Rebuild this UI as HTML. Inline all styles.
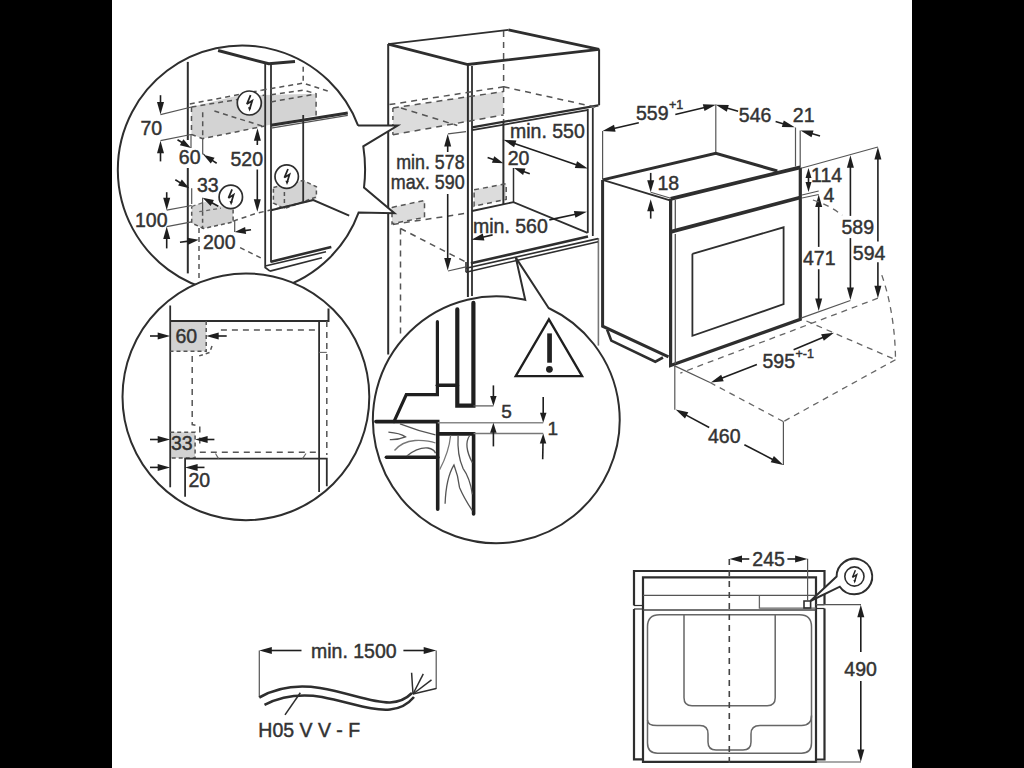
<!DOCTYPE html>
<html><head><meta charset="utf-8">
<style>
html,body{margin:0;padding:0;background:#000;}
body{width:1024px;height:768px;overflow:hidden;position:relative;}
#pg{position:absolute;left:112px;top:0;width:800px;height:768px;background:#fff;}
svg{position:absolute;left:0;top:0;}
text{font-family:"Liberation Sans",sans-serif;stroke:#333;stroke-width:0.45px;}
</style></head><body>
<div id="pg"></div>
<svg width="1024" height="768" viewBox="0 0 1024 768">
<path d="M634.0,605.5 L634.0,571.0 L824.5,571.0 L824.5,604.7" fill="none" stroke="#2e2e2e" stroke-width="2.20" />
<path d="M634.0,609.0 L634.0,759.3 L643.0,759.3" fill="none" stroke="#2e2e2e" stroke-width="2.20" />
<path d="M824.5,608.5 L824.5,759.5 L816.0,759.5" fill="none" stroke="#2e2e2e" stroke-width="2.20" />
<path d="M634.0,605.5 L643.0,605.5" fill="none" stroke="#2e2e2e" stroke-width="1.20" />
<path d="M634.0,609.0 L643.0,609.0" fill="none" stroke="#2e2e2e" stroke-width="1.20" />
<path d="M816.0,604.7 L824.5,604.7" fill="none" stroke="#2e2e2e" stroke-width="1.20" />
<path d="M816.0,608.5 L824.5,608.5" fill="none" stroke="#2e2e2e" stroke-width="1.20" />
<path d="M643,761.9 V577.3 H816 V761.9 Z" fill="none" stroke="#2e2e2e" stroke-width="2.20" />
<path d="M643.0,595.3 L816.0,595.3" fill="none" stroke="#555" stroke-width="1.30" />
<path d="M643.0,610.0 L816.0,610.0" fill="none" stroke="#444" stroke-width="1.50" />
<path d="M759.4,595.3 L759.4,608.2 L816.0,608.2" fill="none" stroke="#666" stroke-width="1.30" />
<path d="M804,601 h6.6 v7 h-6.6 Z" fill="none" stroke="#2e2e2e" stroke-width="1.60" />
<path d="M659.5,614.7 H799.5 Q811.5,614.7 811.5,626.7 V715.6 Q811.5,725.6 801.5,725.6 H760 Q751,725.6 751,734 V742 Q751,750 743,750 H716 Q708,750 708,742 V734 Q708,725.6 700,725.6 H657 Q647.5,725.6 647.5,720 V626.7 Q647.5,614.7 659.5,614.7 Z" fill="none" stroke="#666" stroke-width="1.50" />
<path d="M647.5,720 V743 Q647.5,753.2 657.5,753.2 H801.5 Q811.5,753.2 811.5,743 V715.6" fill="none" stroke="#666" stroke-width="1.50" />
<path d="M684,614.7 V697.7 Q684,705.7 692,705.7 H767.2 Q775.2,705.7 775.2,697.7 V614.7" fill="none" stroke="#666" stroke-width="1.50" />
<path d="M729.3,559.0 L729.3,768.0" fill="none" stroke="#444" stroke-width="1.60" stroke-dasharray="6,5" />
<path d="M807.6,558.8 L807.6,601.0" fill="none" stroke="#555" stroke-width="1.20" />
<path d="M816.0,604.7 L861.0,604.7" fill="none" stroke="#555" stroke-width="1.20" />
<path d="M816.0,762.0 L861.0,762.0" fill="none" stroke="#555" stroke-width="1.20" />
<path d="M860.8,681.0 L860.8,750.5" stroke="#1e1e1e" stroke-width="1.60" fill="none"/>
<path d="M860.8,762.0 L857.3,749.5 L864.3,749.5 Z" fill="#1e1e1e"/>
<path d="M860.8,652.0 L860.8,616.2" stroke="#1e1e1e" stroke-width="1.60" fill="none"/>
<path d="M860.8,604.7 L864.3,617.2 L857.3,617.2 Z" fill="#1e1e1e"/>
<path d="M749.3,559.0 L741.0,559.0" stroke="#1e1e1e" stroke-width="1.60" fill="none"/>
<path d="M729.5,559.0 L742.0,555.5 L742.0,562.5 Z" fill="#1e1e1e"/>
<path d="M787.4,559.0 L796.1,559.0" stroke="#1e1e1e" stroke-width="1.60" fill="none"/>
<path d="M807.6,559.0 L795.1,562.5 L795.1,555.5 Z" fill="#1e1e1e"/>
<path d="M810.4,601 L836.6,576.5 A17.8,17.8 0 1 1 839.8,586.7 Z" fill="#fff" stroke="#2e2e2e" stroke-width="2.00" />
<circle cx="854.4" cy="576.5" r="9.6" fill="#fff" stroke="#2e2e2e" stroke-width="1.60"/>
<path d="M855.4,570.3 L852.5,577.3 L856.7,574.7 L854.7,581.3" fill="none" stroke="#222" stroke-width="1.44" stroke-linejoin="miter" stroke-miterlimit="3"/>
<path d="M854.6,583.4 L853.4,579.9 L855.9,580.2 Z" fill="#222"/>
<text x="860.6" y="676.2" font-size="19.5" text-anchor="middle" fill="#333" >490</text>
<text x="768.6" y="565.8" font-size="19.5" text-anchor="middle" fill="#333" >245</text>
<path d="M598.4,238.0 L598.4,345.6" fill="none" stroke="#777" stroke-width="1.60" />
<path d="M602.6,131.0 L602.6,179.0" fill="none" stroke="#555" stroke-width="1.20" />
<path d="M715.8,104.6 L715.8,153.3" fill="none" stroke="#555" stroke-width="1.20" />
<path d="M795.5,127.5 L795.5,166.5" fill="none" stroke="#555" stroke-width="1.20" />
<path d="M800.2,130.4 L800.2,167.0" fill="none" stroke="#555" stroke-width="1.20" />
<path d="M638.8,122.8 L613.8,128.5" stroke="#1e1e1e" stroke-width="1.60" fill="none"/>
<path d="M602.6,131.0 L614.0,124.8 L615.6,131.7 Z" fill="#1e1e1e"/>
<path d="M675.3,114.5 L704.6,107.5" stroke="#1e1e1e" stroke-width="1.60" fill="none"/>
<path d="M715.8,104.8 L704.5,111.1 L702.8,104.3 Z" fill="#1e1e1e"/>
<text x="636.0" y="119.8" font-size="19.5" text-anchor="start" fill="#333" >559</text>
<text x="669.0" y="109.3" font-size="12.5" text-anchor="start" fill="#333" >+1</text>
<path d="M738.1,111.3 L726.8,108.0" stroke="#1e1e1e" stroke-width="1.60" fill="none"/>
<path d="M715.8,104.8 L728.8,104.9 L726.8,111.7 Z" fill="#1e1e1e"/>
<path d="M775.6,121.6 L783.8,124.0" stroke="#1e1e1e" stroke-width="1.60" fill="none"/>
<path d="M794.8,127.3 L781.8,127.1 L783.8,120.4 Z" fill="#1e1e1e"/>
<text x="738.8" y="122.2" font-size="19.5" text-anchor="start" fill="#333" >546</text>
<text x="792.8" y="122.4" font-size="19.5" text-anchor="start" fill="#333" >21</text>
<path d="M820.0,136.0 L811.6,133.6" stroke="#1e1e1e" stroke-width="1.60" fill="none"/>
<path d="M800.5,130.4 L813.5,130.5 L811.5,137.2 Z" fill="#1e1e1e"/>
<path d="M602.6,179.9 L715.8,153.3 L777.3,171.0" fill="none" stroke="#2e2e2e" stroke-width="3.00" />
<path d="M602.6,179.9 L602.6,326.2 L668.5,356.8" fill="none" stroke="#2e2e2e" stroke-width="3.00" />
<path d="M602.6,179.9 L670.0,200.4" fill="none" stroke="#2e2e2e" stroke-width="1.80" />
<path d="M650.7,192.2 L670.0,198.0" fill="none" stroke="#555" stroke-width="1.20" />
<path d="M607.1,329.6 L611.3,340.6 L655.3,361.7 L663.0,357.5" fill="none" stroke="#2e2e2e" stroke-width="2.60" />
<path d="M670.6,198.9 L800.3,167.3" fill="none" stroke="#2e2e2e" stroke-width="3.80" />
<path d="M670.6,198.7 L670.6,365.6 L800.3,319.3 L800.3,167.5" fill="none" stroke="#2e2e2e" stroke-width="3.20" />
<path d="M675.3,200.0 L675.3,231.0" fill="none" stroke="#555" stroke-width="1.30" />
<path d="M675.3,234.0 L675.3,364.0" fill="none" stroke="#555" stroke-width="1.30" />
<path d="M670.6,231.9 L800.3,197.5" fill="none" stroke="#2e2e2e" stroke-width="3.80" />
<path d="M692.4,253.8 L783.6,227.3 L783.6,304.2 L692.4,335.8 L692.4,253.8" fill="none" stroke="#2e2e2e" stroke-width="1.80" />
<path d="M650.7,172.9 L650.7,181.2" stroke="#1e1e1e" stroke-width="1.60" fill="none"/>
<path d="M650.7,192.2 L647.2,180.2 L654.2,180.2 Z" fill="#1e1e1e"/>
<path d="M650.7,218.6 L650.7,210.3" stroke="#1e1e1e" stroke-width="1.60" fill="none"/>
<path d="M650.7,199.3 L654.2,211.3 L647.2,211.3 Z" fill="#1e1e1e"/>
<text x="657.5" y="189.9" font-size="19.5" text-anchor="start" fill="#333" >18</text>
<path d="M802.0,168.0 L877.9,147.0" fill="none" stroke="#555" stroke-width="1.20" />
<path d="M802.0,195.0 L818.7,191.0" fill="none" stroke="#555" stroke-width="1.20" />
<path d="M802.0,198.0 L818.7,194.5" fill="none" stroke="#555" stroke-width="1.20" />
<path d="M808.5,180.0 L808.5,177.1" stroke="#1e1e1e" stroke-width="1.60" fill="none"/>
<path d="M808.5,168.1 L811.5,178.1 L805.5,178.1 Z" fill="#1e1e1e"/>
<path d="M808.5,180.0 L808.5,183.1" stroke="#1e1e1e" stroke-width="1.60" fill="none"/>
<path d="M808.5,192.1 L805.5,182.1 L811.5,182.1 Z" fill="#1e1e1e"/>
<text x="811.0" y="181.6" font-size="19.5" text-anchor="start" fill="#333" >114</text>
<text x="823.5" y="202.1" font-size="19.5" text-anchor="start" fill="#333" >4</text>
<path d="M818.7,246.9 L818.7,206.0" stroke="#1e1e1e" stroke-width="1.60" fill="none"/>
<path d="M818.7,194.5 L822.2,207.0 L815.2,207.0 Z" fill="#1e1e1e"/>
<path d="M818.7,269.2 L818.7,299.5" stroke="#1e1e1e" stroke-width="1.60" fill="none"/>
<path d="M818.7,311.0 L815.2,298.5 L822.2,298.5 Z" fill="#1e1e1e"/>
<text x="803.0" y="264.5" font-size="19.5" text-anchor="start" fill="#333" >471</text>
<path d="M850.4,215.9 L850.4,166.7" stroke="#1e1e1e" stroke-width="1.60" fill="none"/>
<path d="M850.4,155.2 L853.9,167.7 L846.9,167.7 Z" fill="#1e1e1e"/>
<path d="M850.4,238.1 L850.4,288.4" stroke="#1e1e1e" stroke-width="1.60" fill="none"/>
<path d="M850.4,299.9 L846.9,287.4 L853.9,287.4 Z" fill="#1e1e1e"/>
<path d="M877.9,241.6 L877.9,158.5" stroke="#1e1e1e" stroke-width="1.60" fill="none"/>
<path d="M877.9,147.0 L881.4,159.5 L874.4,159.5 Z" fill="#1e1e1e"/>
<path d="M877.9,262.2 L877.9,286.7" stroke="#1e1e1e" stroke-width="1.60" fill="none"/>
<path d="M877.9,298.2 L874.4,285.7 L881.4,285.7 Z" fill="#1e1e1e"/>
<path d="M801.0,318.1 L850.4,300.5" fill="none" stroke="#555" stroke-width="1.20" />
<path d="M877.9,298.2 L680.3,373.1" fill="none" stroke="#666" stroke-width="1.30" stroke-dasharray="6,5" />
<path d="M806.4,321.0 L895.5,359.7" fill="none" stroke="#666" stroke-width="1.30" stroke-dasharray="6,5" />
<path d="M812.9,200.0 C824.0,203.4 833.8,208.6 842.3,215.3" fill="none" stroke="#666" stroke-width="1.30" stroke-dasharray="6,5" />
<path d="M881.8,275.1 C891.6,303.0 895.3,333.9 895.5,359.7" fill="none" stroke="#666" stroke-width="1.30" stroke-dasharray="6,5" />
<text x="841.5" y="234.0" font-size="19.5" text-anchor="start" fill="#333" >589</text>
<text x="852.8" y="259.8" font-size="19.5" text-anchor="start" fill="#333" >594</text>
<path d="M895.5,359.7 L783.4,421.6" fill="none" stroke="#666" stroke-width="1.30" stroke-dasharray="6,5" />
<path d="M674.1,365.6 L710.0,382.5" fill="none" stroke="#555" stroke-width="1.20" />
<path d="M710.0,382.5 L783.4,421.6" fill="none" stroke="#666" stroke-width="1.30" stroke-dasharray="6,5" />
<path d="M674.8,365.6 L674.8,409.8" fill="none" stroke="#555" stroke-width="1.20" />
<path d="M783.4,421.6 L783.4,465.0" fill="none" stroke="#555" stroke-width="1.20" />
<path d="M756.9,364.5 L721.5,378.3" stroke="#1e1e1e" stroke-width="1.60" fill="none"/>
<path d="M710.8,382.5 L721.2,374.7 L723.7,381.2 Z" fill="#1e1e1e"/>
<path d="M793.6,349.7 L823.4,337.2" stroke="#1e1e1e" stroke-width="1.60" fill="none"/>
<path d="M834.0,332.7 L823.8,340.8 L821.1,334.3 Z" fill="#1e1e1e"/>
<text x="762.5" y="368.4" font-size="19.5" text-anchor="start" fill="#333" >595</text>
<text x="795.5" y="358.0" font-size="12.5" text-anchor="start" fill="#333" >+-1</text>
<path d="M709.2,427.5 L685.7,414.9" stroke="#1e1e1e" stroke-width="1.60" fill="none"/>
<path d="M675.6,409.5 L688.3,412.3 L685.0,418.5 Z" fill="#1e1e1e"/>
<path d="M744.4,444.7 L773.2,459.7" stroke="#1e1e1e" stroke-width="1.60" fill="none"/>
<path d="M783.4,465.0 L770.7,462.3 L773.9,456.1 Z" fill="#1e1e1e"/>
<text x="708.0" y="443.1" font-size="19.5" text-anchor="start" fill="#333" >460</text>
<path d="M392.9,107.9 L503.4,91.5 L503.4,114.9 L392.9,134.8Z" fill="#dcdcdc" stroke="none"/>
<path d="M392.0,207.4 L424.5,200.4 L424.5,217.4 L392.0,223.8Z" fill="#dcdcdc" stroke="none"/>
<path d="M474.1,189.8 L506.2,183.7 L506.2,199.4 L474.1,206.2Z" fill="#dcdcdc" stroke="none"/>
<path d="M388.2,44.1 L508.4,29.8" fill="none" stroke="#2e2e2e" stroke-width="1.80" />
<path d="M508.4,29.8 L599.1,49.3 L467.9,64.5 L388.2,44.1" fill="none" stroke="#2e2e2e" stroke-width="2.80" />
<path d="M388.2,44.1 L388.2,354.4" fill="none" stroke="#2e2e2e" stroke-width="2.00" />
<path d="M467.9,64.5 L467.9,297.0" fill="none" stroke="#2e2e2e" stroke-width="2.00" />
<path d="M472.0,66.0 L472.0,296.0" fill="none" stroke="#2e2e2e" stroke-width="1.80" />
<path d="M599.1,49.3 L599.1,105.3" fill="none" stroke="#2e2e2e" stroke-width="2.00" />
<path d="M472.0,127.3 L598.4,105.3" fill="none" stroke="#2e2e2e" stroke-width="2.20" />
<path d="M472.0,130.2 L587.2,110.2" fill="none" stroke="#2e2e2e" stroke-width="1.80" />
<path d="M503.6,31.0 L503.6,121.0" fill="none" stroke="#555" stroke-width="1.50" stroke-dasharray="6,5" />
<path d="M503.4,121.0 L503.4,204.0" fill="none" stroke="#2e2e2e" stroke-width="2.00" />
<path d="M513.5,168.0 L513.5,202.1" fill="none" stroke="#2e2e2e" stroke-width="1.50" />
<path d="M587.8,109.0 L587.8,232.9" fill="none" stroke="#2e2e2e" stroke-width="1.80" />
<path d="M592.8,108.0 L592.8,236.0" fill="none" stroke="#2e2e2e" stroke-width="1.80" />
<path d="M389.4,104.6 L503.6,86.8" fill="none" stroke="#555" stroke-width="1.50" stroke-dasharray="6,5" />
<path d="M392.9,107.9 L503.6,91.5" fill="none" stroke="#555" stroke-width="1.50" stroke-dasharray="6,5" />
<path d="M392.9,134.8 L503.6,114.9" fill="none" stroke="#555" stroke-width="1.50" stroke-dasharray="6,5" />
<path d="M392.9,107.9 L392.9,134.8" fill="none" stroke="#555" stroke-width="1.50" stroke-dasharray="4,4" />
<path d="M401.0,108.0 L457.3,125.5" fill="none" stroke="#555" stroke-width="1.50" stroke-dasharray="6,5" />
<path d="M503.6,86.8 L599.0,107.9" fill="none" stroke="#555" stroke-width="1.50" stroke-dasharray="6,5" />
<path d="M392.0,207.4 L424.5,200.4 L424.5,217.4 L392.0,223.8 L392.0,207.4" fill="none" stroke="#555" stroke-width="1.50" stroke-dasharray="5,4" />
<path d="M474.1,189.8 L506.2,183.7 L506.2,199.4 L474.1,206.2 L474.1,189.8" fill="none" stroke="#555" stroke-width="1.50" stroke-dasharray="5,4" />
<path d="M392.9,224.4 L466.0,213.3" fill="none" stroke="#555" stroke-width="1.50" stroke-dasharray="6,5" />
<path d="M400.5,228.5 L465.0,261.6" fill="none" stroke="#555" stroke-width="1.50" stroke-dasharray="6,5" />
<path d="M400.5,228.5 L400.5,338.6" fill="none" stroke="#555" stroke-width="1.50" stroke-dasharray="6,5" />
<path d="M472.0,211.0 L513.5,202.1 L587.6,232.9" fill="none" stroke="#2e2e2e" stroke-width="1.80" />
<path d="M470.9,263.3 L588.0,236.6" fill="none" stroke="#2e2e2e" stroke-width="2.60" />
<path d="M466.0,268.3 L598.0,238.6" fill="none" stroke="#2e2e2e" stroke-width="1.60" />
<path d="M466.0,272.2 L598.0,241.7" fill="none" stroke="#2e2e2e" stroke-width="1.60" />
<path d="M466.0,262.0 L466.0,272.2" fill="none" stroke="#2e2e2e" stroke-width="1.60" />
<path d="M448.0,133.9 L466.0,131.6" fill="none" stroke="#555" stroke-width="1.20" />
<path d="M448.0,271.0 L466.0,266.9" fill="none" stroke="#555" stroke-width="1.20" />
<path d="M447.7,152.0 L447.7,145.4" stroke="#1e1e1e" stroke-width="1.60" fill="none"/>
<path d="M447.7,133.9 L451.2,146.4 L444.2,146.4 Z" fill="#1e1e1e"/>
<path d="M447.7,194.0 L447.7,258.9" stroke="#1e1e1e" stroke-width="1.60" fill="none"/>
<path d="M447.7,270.4 L444.2,257.9 L451.2,257.9 Z" fill="#1e1e1e"/>
<text transform="translate(464.6,169.3) scale(0.915,1)" font-size="19.5" text-anchor="end" fill="#333" >min. 578</text>
<text transform="translate(464.6,189.3) scale(0.920,1)" font-size="19.5" text-anchor="end" fill="#333" >max. 590</text>
<path d="M545.0,154.0 L514.3,143.5" stroke="#1e1e1e" stroke-width="1.60" fill="none"/>
<path d="M503.4,139.8 L516.4,140.5 L514.1,147.2 Z" fill="#1e1e1e"/>
<path d="M545.0,154.0 L576.9,164.9" stroke="#1e1e1e" stroke-width="1.60" fill="none"/>
<path d="M587.8,168.6 L574.8,167.9 L577.1,161.3 Z" fill="#1e1e1e"/>
<text x="510.0" y="137.5" font-size="19.5" text-anchor="start" fill="#333" >min. 550</text>
<path d="M487.6,157.4 L494.0,159.8" stroke="#1e1e1e" stroke-width="1.60" fill="none"/>
<path d="M503.4,163.3 L491.9,162.7 L494.3,156.2 Z" fill="#1e1e1e"/>
<path d="M529.8,173.8 L523.4,171.4" stroke="#1e1e1e" stroke-width="1.60" fill="none"/>
<path d="M514.0,168.0 L525.5,168.5 L523.1,175.1 Z" fill="#1e1e1e"/>
<text x="507.7" y="164.5" font-size="19.5" text-anchor="start" fill="#333" >20</text>
<path d="M492.6,234.9 L482.6,237.2" stroke="#1e1e1e" stroke-width="1.60" fill="none"/>
<path d="M471.4,239.7 L482.8,233.5 L484.4,240.4 Z" fill="#1e1e1e"/>
<path d="M549.3,219.9 L575.7,214.2" stroke="#1e1e1e" stroke-width="1.60" fill="none"/>
<path d="M586.9,211.7 L575.4,217.8 L573.9,210.9 Z" fill="#1e1e1e"/>
<text x="473.0" y="232.9" font-size="19.5" text-anchor="start" fill="#333" >min. 560</text>
<circle cx="242.1" cy="170.1" r="124.2" fill="#fff" stroke="none" stroke-width="0.00"/>
<path d="M357.8,125.6 L397.7,125.6 L363.3,146.3Z" fill="#fff" stroke="none"/>
<path d="M364.0,187.5 L394.5,213.3 L358.0,212.6Z" fill="#fff" stroke="none"/>
<path d="M358.1,125.6 L397.7,125.6 L363.3,146.3 Q366.5,167 364,187.5 L394.5,213.3 L358.6,212.6 A124.2,124.2 0 1 1 358.1,125.6" fill="none" stroke="#2e2e2e" stroke-width="2.00" />
<path d="M191.5,107.0 L238.0,95.5 L316.1,93.7 L316.1,115.4 L202.7,138.6 L191.5,134.5Z" fill="#d3d3d3" stroke="none"/>
<path d="M191.7,206.5 L205.0,202.0 L233.1,209.5 L233.1,222.0 L203.4,228.5 L191.7,223.0Z" fill="#d3d3d3" stroke="none"/>
<path d="M273.4,187.5 L303.1,180.5 L316.4,186.7 L316.4,199.0 L284.4,208.6 L273.4,203.1Z" fill="#d3d3d3" stroke="none"/>
<path d="M218.1,50.5 L268.7,63.8 L295.0,61.4" fill="none" stroke="#2e2e2e" stroke-width="3.00" />
<path d="M265.2,63.8 L265.2,267.5 L270.0,271.1" fill="none" stroke="#2e2e2e" stroke-width="1.80" />
<path d="M271.0,64.5 L271.0,262.5" fill="none" stroke="#2e2e2e" stroke-width="1.80" />
<path d="M271.0,125.3 L347.8,113.0" fill="none" stroke="#2e2e2e" stroke-width="3.00" />
<path d="M271.0,128.2 L347.8,115.4" fill="none" stroke="#555" stroke-width="1.30" />
<path d="M303.2,66.7 L303.2,83.1" fill="none" stroke="#555" stroke-width="1.50" stroke-dasharray="5,4" />
<path d="M303.2,115.0 L303.2,202.3" fill="none" stroke="#2e2e2e" stroke-width="1.80" />
<path d="M261.6,90.2 L303.2,83.1 L328.4,91.3" fill="none" stroke="#555" stroke-width="1.50" stroke-dasharray="5,4" />
<path d="M189.8,104.0 L261.6,90.2" fill="none" stroke="#555" stroke-width="1.50" stroke-dasharray="5,4" />
<path d="M271.0,94.8 L303.8,90.2 L316.1,93.7 L316.1,115.4" fill="none" stroke="#555" stroke-width="1.50" stroke-dasharray="5,4" />
<path d="M271.0,101.9 L314.4,94.3" fill="none" stroke="#555" stroke-width="1.50" stroke-dasharray="5,4" />
<path d="M191.5,107.0 L191.5,134.5 L202.7,138.6 L265.0,126.0" fill="none" stroke="#555" stroke-width="1.50" stroke-dasharray="5,4" />
<path d="M202.7,112.2 L202.7,138.6" fill="none" stroke="#555" stroke-width="1.50" stroke-dasharray="5,4" />
<path d="M214.4,111.0 L262.0,126.0" fill="none" stroke="#555" stroke-width="1.50" stroke-dasharray="5,4" />
<path d="M191.5,107.0 L265.0,95.0" fill="none" stroke="#555" stroke-width="1.50" stroke-dasharray="5,4" />
<path d="M202.7,138.6 L202.7,153.8 L205.0,155.0" fill="none" stroke="#555" stroke-width="1.20" />
<circle cx="249.3" cy="103.0" r="12.0" fill="#fff" stroke="#2e2e2e" stroke-width="1.70"/>
<path d="M250.6,95.2 L246.9,104.0 L252.2,100.7 L249.7,109.0" fill="none" stroke="#222" stroke-width="1.80" stroke-linejoin="miter" stroke-miterlimit="3"/>
<path d="M249.6,111.6 L248.0,107.2 L251.2,107.6 Z" fill="#222"/>
<path d="M187.8,61.9 L187.8,140.0" fill="none" stroke="#2e2e2e" stroke-width="2.00" />
<path d="M187.8,168.0 L187.8,273.4" fill="none" stroke="#2e2e2e" stroke-width="2.00" />
<path d="M160.5,114.6 L191.5,107.0" fill="none" stroke="#555" stroke-width="1.20" />
<path d="M160.5,140.7 L191.0,134.5" fill="none" stroke="#555" stroke-width="1.20" />
<path d="M191.0,134.5 L191.0,148.0" fill="none" stroke="#555" stroke-width="1.20" />
<path d="M160.5,95.2 L160.5,103.1" stroke="#1e1e1e" stroke-width="1.60" fill="none"/>
<path d="M160.5,114.6 L157.0,102.1 L164.0,102.1 Z" fill="#1e1e1e"/>
<path d="M160.5,161.4 L160.5,152.2" stroke="#1e1e1e" stroke-width="1.60" fill="none"/>
<path d="M160.5,140.7 L164.0,153.2 L157.0,153.2 Z" fill="#1e1e1e"/>
<text x="140.5" y="135.1" font-size="19.5" text-anchor="start" fill="#333" >70</text>
<path d="M177.5,139.8 L182.5,142.8" stroke="#1e1e1e" stroke-width="1.60" fill="none"/>
<path d="M191.0,148.0 L179.8,145.3 L183.4,139.3 Z" fill="#1e1e1e"/>
<path d="M216.7,163.2 L211.8,160.1" stroke="#1e1e1e" stroke-width="1.60" fill="none"/>
<path d="M203.4,154.7 L214.6,157.7 L210.8,163.6 Z" fill="#1e1e1e"/>
<text x="178.8" y="164.4" font-size="19.5" text-anchor="start" fill="#333" >60</text>
<path d="M257.3,145.0 L257.4,139.7" stroke="#1e1e1e" stroke-width="1.60" fill="none"/>
<path d="M257.5,128.2 L260.9,140.7 L253.9,140.7 Z" fill="#1e1e1e"/>
<path d="M257.3,169.5 L257.3,200.2" stroke="#1e1e1e" stroke-width="1.60" fill="none"/>
<path d="M257.3,211.7 L253.8,199.2 L260.8,199.2 Z" fill="#1e1e1e"/>
<text x="230.5" y="166.4" font-size="19.5" text-anchor="start" fill="#333" >520</text>
<path d="M175.3,179.7 L180.8,183.1" stroke="#1e1e1e" stroke-width="1.60" fill="none"/>
<path d="M189.3,188.3 L178.1,185.5 L181.8,179.6 Z" fill="#1e1e1e"/>
<path d="M218.3,206.3 L211.4,202.5" stroke="#1e1e1e" stroke-width="1.60" fill="none"/>
<path d="M202.6,197.7 L213.9,199.9 L210.6,206.1 Z" fill="#1e1e1e"/>
<path d="M191.7,188.3 L191.7,204.0" fill="none" stroke="#555" stroke-width="1.20" />
<path d="M202.6,197.7 L202.6,211.0" fill="none" stroke="#555" stroke-width="1.20" />
<text x="196.9" y="192.2" font-size="19.5" text-anchor="start" fill="#333" >33</text>
<circle cx="230.8" cy="196.9" r="11.7" fill="#fff" stroke="#2e2e2e" stroke-width="1.70"/>
<path d="M232.1,189.3 L228.5,197.9 L233.6,194.7 L231.2,202.8" fill="none" stroke="#222" stroke-width="1.75" stroke-linejoin="miter" stroke-miterlimit="3"/>
<path d="M231.1,205.3 L229.5,201.0 L232.7,201.4 Z" fill="#222"/>
<path d="M191.7,206.5 L205.0,202.0" fill="none" stroke="#666" stroke-width="1.30" stroke-dasharray="4,3" />
<path d="M199.3,211.7 L221.0,208.2" fill="none" stroke="#666" stroke-width="1.30" stroke-dasharray="4,3" />
<path d="M233.1,209.5 L233.1,222.0 L203.4,228.5 L191.7,223.0 L191.7,206.5" fill="none" stroke="#555" stroke-width="1.50" stroke-dasharray="4,3" />
<path d="M202.6,211.7 L202.6,228.9" fill="none" stroke="#555" stroke-width="1.50" stroke-dasharray="4,3" />
<path d="M233.1,221.1 L256.5,213.3 L313.3,200.0" fill="none" stroke="#555" stroke-width="1.50" stroke-dasharray="5,4" />
<path d="M166.7,210.2 L191.7,205.5" fill="none" stroke="#555" stroke-width="1.20" />
<path d="M166.7,226.6 L191.7,221.9" fill="none" stroke="#555" stroke-width="1.20" />
<path d="M166.7,192.2 L166.7,198.7" stroke="#1e1e1e" stroke-width="1.60" fill="none"/>
<path d="M166.7,210.2 L163.2,197.7 L170.2,197.7 Z" fill="#1e1e1e"/>
<path d="M166.7,248.4 L166.7,238.1" stroke="#1e1e1e" stroke-width="1.60" fill="none"/>
<path d="M166.7,226.6 L170.2,239.1 L163.2,239.1 Z" fill="#1e1e1e"/>
<text x="135.0" y="226.6" font-size="19.5" text-anchor="start" fill="#333" >100</text>
<path d="M180.0,242.2 L188.8,241.1" stroke="#1e1e1e" stroke-width="1.60" fill="none"/>
<path d="M198.7,239.8 L188.2,244.7 L187.3,237.7 Z" fill="#1e1e1e"/>
<path d="M251.0,229.7 L244.6,230.6" stroke="#1e1e1e" stroke-width="1.60" fill="none"/>
<path d="M234.7,232.0 L245.1,227.0 L246.1,233.9 Z" fill="#1e1e1e"/>
<path d="M199.0,228.0 L199.0,300.0" fill="none" stroke="#555" stroke-width="1.50" stroke-dasharray="5,4" />
<path d="M234.7,221.1 L234.7,232.0" fill="none" stroke="#555" stroke-width="1.20" />
<text x="203.0" y="249.2" font-size="19.5" text-anchor="start" fill="#333" >200</text>
<path d="M240.1,247.7 L262.0,258.5" fill="none" stroke="#555" stroke-width="1.50" stroke-dasharray="5,4" />
<path d="M273.4,187.5 L303.1,180.5 L316.4,186.7 L316.4,196.9 L284.4,208.6 L273.4,203.1 L273.4,187.5" fill="none" stroke="#555" stroke-width="1.50" stroke-dasharray="4,3" />
<path d="M284.4,192.0 L284.4,208.6" fill="none" stroke="#555" stroke-width="1.50" stroke-dasharray="4,3" />
<circle cx="286.7" cy="176.6" r="11.7" fill="#fff" stroke="#2e2e2e" stroke-width="1.70"/>
<path d="M288.0,169.0 L284.4,177.6 L289.5,174.4 L287.1,182.4" fill="none" stroke="#222" stroke-width="1.75" stroke-linejoin="miter" stroke-miterlimit="3"/>
<path d="M287.0,185.0 L285.4,180.7 L288.6,181.1 Z" fill="#222"/>
<path d="M271.0,210.2 L313.3,200.0 L349.2,215.6" fill="none" stroke="#2e2e2e" stroke-width="2.00" />
<path d="M271.0,261.7 L331.3,246.9" fill="none" stroke="#2e2e2e" stroke-width="2.60" />
<path d="M265.2,266.0 L326.0,251.8" fill="none" stroke="#2e2e2e" stroke-width="1.60" />
<path d="M270.0,271.1 L322.0,257.8" fill="none" stroke="#2e2e2e" stroke-width="1.60" />
<circle cx="245.9" cy="396.8" r="123.4" fill="#fff" stroke="#2e2e2e" stroke-width="2.00"/>
<path d="M170.2,321.0 L206.2,321.0 L206.2,351.3 L170.2,351.3Z" fill="#d2d2d2" stroke="none"/>
<path d="M170.2,432.3 L195.1,432.3 L195.1,458.0 L170.2,458.0Z" fill="#d2d2d2" stroke="none"/>
<path d="M170.2,305.5 L170.2,487.3" fill="none" stroke="#2e2e2e" stroke-width="1.80" />
<path d="M170.2,321.0 L328.5,321.0 L328.5,308.5" fill="none" stroke="#2e2e2e" stroke-width="2.00" />
<path d="M206.2,321.0 L206.2,351.3 L170.2,351.3" fill="none" stroke="#555" stroke-width="1.50" stroke-dasharray="4,3" />
<path d="M319.1,321.0 L319.1,492.0" fill="none" stroke="#2e2e2e" stroke-width="1.80" />
<path d="M220.9,329.9 L319.0,329.9" fill="none" stroke="#555" stroke-width="1.50" stroke-dasharray="6,5" />
<path d="M326.8,321.0 L326.8,455.0" fill="none" stroke="#555" stroke-width="1.50" stroke-dasharray="6,5" />
<path d="M212.0,346.0 L209.7,352.4 L199.2,355.9" fill="none" stroke="#555" stroke-width="1.50" stroke-dasharray="4,3" />
<path d="M192.2,355.9 L192.2,424.6 L199.8,426.0 L199.8,445.2" fill="none" stroke="#555" stroke-width="1.50" stroke-dasharray="6,5" />
<path d="M170.2,432.3 L195.1,432.3 L195.1,458.0 L170.2,458.0" fill="none" stroke="#555" stroke-width="1.50" stroke-dasharray="4,3" />
<path d="M199.8,452.2 L319.0,452.2" fill="none" stroke="#555" stroke-width="1.50" stroke-dasharray="6,5" />
<path d="M185.1,496.7 L185.1,458.6 L326.8,458.6 L326.8,486.2" fill="none" stroke="#2e2e2e" stroke-width="1.80" />
<path d="M215.5,453.5 L218.5,458.6" fill="none" stroke="#666" stroke-width="1.10" />
<path d="M306.0,453.5 L302.5,458.6" fill="none" stroke="#666" stroke-width="1.10" />
<path d="M319.1,352.4 L326.8,352.4" fill="none" stroke="#666" stroke-width="1.10" />
<path d="M150.0,336.0 L158.7,336.0" stroke="#1e1e1e" stroke-width="1.60" fill="none"/>
<path d="M170.2,336.0 L157.7,339.5 L157.7,332.5 Z" fill="#1e1e1e"/>
<path d="M226.7,336.0 L217.7,336.0" stroke="#1e1e1e" stroke-width="1.60" fill="none"/>
<path d="M206.2,336.0 L218.7,332.5 L218.7,339.5 Z" fill="#1e1e1e"/>
<text x="175.5" y="342.5" font-size="19.5" text-anchor="start" fill="#333" >60</text>
<path d="M150.0,439.5 L158.7,439.5" stroke="#1e1e1e" stroke-width="1.60" fill="none"/>
<path d="M170.2,439.5 L157.7,443.0 L157.7,436.0 Z" fill="#1e1e1e"/>
<path d="M214.4,439.5 L206.6,439.5" stroke="#1e1e1e" stroke-width="1.60" fill="none"/>
<path d="M195.1,439.5 L207.6,436.0 L207.6,443.0 Z" fill="#1e1e1e"/>
<text x="171.0" y="449.8" font-size="19.5" text-anchor="start" fill="#333" >33</text>
<path d="M150.0,467.4 L158.7,467.4" stroke="#1e1e1e" stroke-width="1.60" fill="none"/>
<path d="M170.2,467.4 L157.7,470.9 L157.7,463.9 Z" fill="#1e1e1e"/>
<path d="M204.5,467.4 L196.6,467.4" stroke="#1e1e1e" stroke-width="1.60" fill="none"/>
<path d="M185.1,467.4 L197.6,463.9 L197.6,470.9 Z" fill="#1e1e1e"/>
<text x="188.5" y="487.3" font-size="19.5" text-anchor="start" fill="#333" >20</text>
<path d="M525.2,299.8 L515.8,257.6 L548.6,308 A123.4,123.4 0 1 1 525.2,299.8 Z" fill="#fff" stroke="#2e2e2e" stroke-width="2.00" />
<path d="M437.4,321.7 L437.4,394.6 L406.3,394.6 L394.0,421.6" fill="none" stroke="#1f1f1f" stroke-width="3.20" stroke-linecap="round"/>
<path d="M437.4,385.2 L457.3,385.2" fill="none" stroke="#1f1f1f" stroke-width="3.60" stroke-linecap="round"/>
<path d="M457.3,309.4 L457.3,405.7 L473.4,405.7 L473.4,302.9" fill="none" stroke="#1f1f1f" stroke-width="4.20" stroke-linecap="round"/>
<path d="M375.9,421.6 L437.7,421.6 L437.7,509.3" fill="none" stroke="#1f1f1f" stroke-width="3.60" stroke-linecap="round"/>
<path d="M386.4,457.2 L437.7,457.2" fill="none" stroke="#1f1f1f" stroke-width="3.60" stroke-linecap="round"/>
<path d="M437.7,433.9 L473.6,433.9 L473.6,514.0" fill="none" stroke="#1f1f1f" stroke-width="3.60" stroke-linecap="round"/>
<path d="M473.4,405.9 L493.4,405.9" fill="none" stroke="#555" stroke-width="1.20" />
<path d="M437.7,422.7 L543.2,422.7" fill="none" stroke="#888" stroke-width="1.50" />
<path d="M473.6,433.5 L543.2,433.5" fill="none" stroke="#777" stroke-width="1.50" />
<path d="M493.4,385.4 L493.4,396.9" stroke="#1e1e1e" stroke-width="1.60" fill="none"/>
<path d="M493.4,405.9 L490.1,395.9 L496.6,395.9 Z" fill="#1e1e1e"/>
<path d="M493.4,446.4 L493.4,431.7" stroke="#1e1e1e" stroke-width="1.60" fill="none"/>
<path d="M493.4,422.7 L496.6,432.7 L490.1,432.7 Z" fill="#1e1e1e"/>
<path d="M543.2,397.1 L543.2,413.7" stroke="#1e1e1e" stroke-width="1.60" fill="none"/>
<path d="M543.2,422.7 L540.0,412.7 L546.5,412.7 Z" fill="#1e1e1e"/>
<path d="M542.7,459.3 L543.0,442.5" stroke="#1e1e1e" stroke-width="1.60" fill="none"/>
<path d="M543.2,433.5 L546.3,443.6 L539.8,443.4 Z" fill="#1e1e1e"/>
<text x="501.3" y="417.6" font-size="19.0" text-anchor="start" fill="#333" >5</text>
<text x="547.5" y="434.7" font-size="19.0" text-anchor="start" fill="#333" >1</text>
<path d="M400,423.9 Q418,431 435.5,434.8" fill="none" stroke="#555" stroke-width="1.20" />
<path d="M388.4,432.1 Q400,433 405.5,436.9 Q398,440 389.8,439.6" fill="none" stroke="#555" stroke-width="1.30" />
<path d="M394.5,450.5 Q402,441.5 415,440.5 Q428,440 435.5,443" fill="none" stroke="#777" stroke-width="1.30" />
<path d="M406.8,456 Q418,447 428,448 Q434,449 435.5,453.3" fill="none" stroke="#555" stroke-width="1.30" />
<path d="M439.6,469.7 Q449,452 450.6,435.5" fill="none" stroke="#777" stroke-width="1.30" />
<path d="M445.1,503.8 Q446,478 454,464.9 Q458,475 459.5,487.4 Q464,498 472.4,510.7" fill="none" stroke="#555" stroke-width="1.30" />
<path d="M458.1,435.5 Q457,455 463,468.3 Q470,478 472.4,494.3" fill="none" stroke="#555" stroke-width="1.30" />
<path d="M469.7,435.5 Q463,445 472.4,462.8" fill="none" stroke="#555" stroke-width="1.30" />
<path d="M548.9,319.3 L515.7,376.2 L582.1,376.2 Z" fill="#fff" stroke="#1f1f1f" stroke-width="2.30" />
<rect x="547.2" y="333.4" width="4.7" height="29.3" fill="#222"/>
<circle cx="549.4" cy="369.3" r="3.4" fill="#222" stroke="#222" stroke-width="0.00"/>
<path d="M259.3,650.5 L259.3,697.3" fill="none" stroke="#555" stroke-width="1.20" />
<path d="M436.2,650.5 L436.2,689.1" fill="none" stroke="#555" stroke-width="1.20" />
<path d="M301.5,650.5 L270.8,650.5" stroke="#1e1e1e" stroke-width="1.60" fill="none"/>
<path d="M259.3,650.5 L271.8,647.0 L271.8,654.0 Z" fill="#1e1e1e"/>
<path d="M403.4,650.5 L424.7,650.5" stroke="#1e1e1e" stroke-width="1.60" fill="none"/>
<path d="M436.2,650.5 L423.7,654.0 L423.7,647.0 Z" fill="#1e1e1e"/>
<text x="311.0" y="657.5" font-size="19.5" text-anchor="start" fill="#333" >min. 1500</text>
<path d="M259.3,697.5 C276,688 295,684 320,688 C350,693 372,703 390,702.5 C400,702 407,698 412,693" fill="none" stroke="#2e2e2e" stroke-width="2.60" />
<path d="M264.5,704.8 C280,697 297,693 322,697 C352,703 372,711 390,709.5 C401,708.5 409,703 414,697" fill="none" stroke="#2e2e2e" stroke-width="2.60" />
<path d="M413.0,694.0 L411.6,672.7" fill="none" stroke="#2e2e2e" stroke-width="1.50" />
<path d="M413.0,694.0 L423.3,673.9" fill="none" stroke="#2e2e2e" stroke-width="1.50" />
<path d="M413.0,694.0 L431.5,679.8" fill="none" stroke="#2e2e2e" stroke-width="1.50" />
<path d="M413.0,694.0 L436.2,688.5" fill="none" stroke="#2e2e2e" stroke-width="1.30" />
<path d="M300.3,692.7 L285.0,714.9" fill="none" stroke="#2e2e2e" stroke-width="1.50" />
<text x="258.3" y="737.2" font-size="19.5" text-anchor="start" fill="#333" >H05 V V - F</text>
</svg>
</body></html>
